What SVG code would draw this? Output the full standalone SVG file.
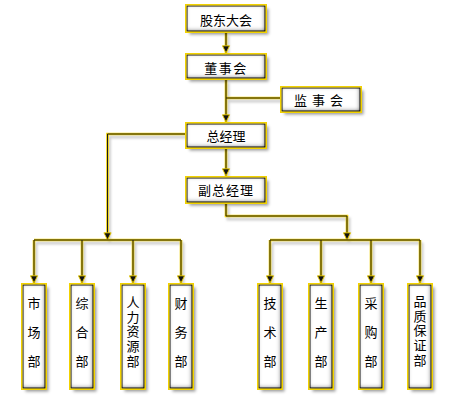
<svg xmlns="http://www.w3.org/2000/svg" width="456" height="408" viewBox="0 0 456 408">
<defs>
<style>
.bg{fill:#fff}
.box{fill:#fff;stroke:#1a1a1a;stroke-width:1;filter:url(#bx)}
.bd{fill:none;stroke:#F2D200;stroke-width:1.5}
.t{font-family:"Noto Sans CJK SC","Noto Sans",sans-serif;font-size:13px;fill:#000;text-anchor:middle}
.v{font-family:"Noto Sans CJK SC","Noto Sans",sans-serif;font-size:13px;fill:#000;writing-mode:vertical-rl;text-anchor:start}
.v3{letter-spacing:16px}
.v5{letter-spacing:1.75px}
.sh{fill:none;stroke:#d0d0d0;stroke-width:3}
.yw{fill:none;stroke:#F2D200;stroke-width:2.6}
.cr{fill:none;stroke:#1a1a1a;stroke-width:1;marker-end:url(#ah)}
.nm{marker-end:none}
</style>
<filter id="bx" x="-30%" y="-20%" width="170%" height="150%">
<feFlood flood-color="#000" result="blk"/>
<feComposite in="blk" in2="SourceAlpha" operator="out" result="inv"/>
<feOffset in="inv" dx="-1" dy="-1" result="invo"/>
<feGaussianBlur in="invo" stdDeviation="2.2" result="ib"/>
<feComposite in="ib" in2="SourceAlpha" operator="in" result="inner"/>
<feGaussianBlur in="SourceAlpha" stdDeviation="1.8" result="sb"/>
<feOffset in="sb" dx="3" dy="3" result="so"/>
<feFlood flood-color="#000" flood-opacity="0.4" result="sc"/>
<feComposite in="sc" in2="so" operator="in" result="shadow"/>
<feMerge><feMergeNode in="shadow"/><feMergeNode in="SourceGraphic"/><feMergeNode in="inner"/></feMerge>
</filter>
<filter id="lb" x="-10%" y="-10%" width="120%" height="120%"><feGaussianBlur stdDeviation="0.8"/></filter>
<marker id="ah" viewBox="0 0 10 10" refX="9" refY="5" markerWidth="9" markerHeight="9" markerUnits="userSpaceOnUse" orient="auto">
<path d="M1,1 L9,5 L1,9 z" fill="#111" stroke="#F2D200" stroke-width="1"/>
</marker>
<path id="c1" d="M226,33 V53"/>
<path id="c2" d="M226,80 V122"/>
<path id="c3" d="M226,98 H280"/>
<path id="c4" d="M185,134 H107.5 V240"/>
<path id="c5" d="M226,149 V176"/>
<path id="c6" d="M226,204 V216 H347 V240"/>
<path id="b1" d="M34,240 H181"/>
<path id="b2" d="M270,240 H420"/>
<path id="d1" d="M34,240 V283"/>
<path id="d2" d="M82,240 V283"/>
<path id="d3" d="M133,240 V283"/>
<path id="d4" d="M181,240 V283"/>
<path id="d5" d="M270,240 V283"/>
<path id="d6" d="M321,240 V283"/>
<path id="d7" d="M371,240 V283"/>
<path id="d8" d="M420,240 V283"/>
</defs>
<rect class="bg" x="0" y="0" width="456" height="408"/>
<g id="connectors">
<g transform="translate(2,3)" filter="url(#lb)">
<use href="#c1" class="sh"/><use href="#c2" class="sh"/><use href="#c3" class="sh"/><use href="#c4" class="sh"/><use href="#c5" class="sh"/><use href="#c6" class="sh"/><use href="#b1" class="sh"/><use href="#b2" class="sh"/><use href="#d1" class="sh"/><use href="#d2" class="sh"/><use href="#d3" class="sh"/><use href="#d4" class="sh"/><use href="#d5" class="sh"/><use href="#d6" class="sh"/><use href="#d7" class="sh"/><use href="#d8" class="sh"/>
</g>
<g>
<use href="#c1" class="yw"/><use href="#c2" class="yw"/><use href="#c3" class="yw"/><use href="#c4" class="yw"/><use href="#c5" class="yw"/><use href="#c6" class="yw"/><use href="#b1" class="yw"/><use href="#b2" class="yw"/><use href="#d1" class="yw"/><use href="#d2" class="yw"/><use href="#d3" class="yw"/><use href="#d4" class="yw"/><use href="#d5" class="yw"/><use href="#d6" class="yw"/><use href="#d7" class="yw"/><use href="#d8" class="yw"/>
</g>
<g>
<use href="#c1" class="cr"/><use href="#c2" class="cr"/><use href="#c3" class="cr nm"/><use href="#c4" class="cr"/><use href="#c5" class="cr"/><use href="#c6" class="cr"/><use href="#b1" class="cr nm"/><use href="#b2" class="cr nm"/><use href="#d1" class="cr"/><use href="#d2" class="cr"/><use href="#d3" class="cr"/><use href="#d4" class="cr"/><use href="#d5" class="cr"/><use href="#d6" class="cr"/><use href="#d7" class="cr"/><use href="#d8" class="cr"/>
</g>
</g>
<g id="gudong">
<rect class="box" x="187" y="6" width="78" height="25"/><rect class="bd" x="185.75" y="4.75" width="80.5" height="27.5"/>
<text class="t" x="226" y="25">股东大会</text>
</g>
<g id="dongshi">
<rect class="box" x="187" y="55" width="78" height="23"/><rect class="bd" x="185.75" y="53.75" width="80.5" height="25.5"/>
<text class="t" x="226" y="73" letter-spacing="1.5">董事会</text>
</g>
<g id="jianshi">
<rect class="box" x="282" y="88" width="78" height="23"/><rect class="bd" x="280.75" y="86.75" width="80.5" height="25.5"/>
<text class="t" x="321" y="105" letter-spacing="5">监事会</text>
</g>
<g id="zongjingli">
<rect class="box" x="187" y="124" width="78" height="23"/><rect class="bd" x="185.75" y="122.75" width="80.5" height="25.5"/>
<text class="t" x="226" y="140.5">总经理</text>
</g>
<g id="fuzongjingli">
<rect class="box" x="187" y="178" width="78" height="24"/><rect class="bd" x="185.75" y="176.75" width="80.5" height="26.5"/>
<text class="t" x="226" y="194.5" letter-spacing="1">副总经理</text>
</g>
<g id="shichang">
<rect class="box" x="23" y="285" width="22" height="103"/><rect class="bd" x="21.75" y="283.75" width="24.5" height="105.5"/>
<text class="v v3" x="34" y="296.5">市场部</text>
</g>
<g id="zonghe">
<rect class="box" x="71" y="285" width="22" height="103"/><rect class="bd" x="69.75" y="283.75" width="24.5" height="105.5"/>
<text class="v v3" x="82" y="296.5">综合部</text>
</g>
<g id="renli">
<rect class="box" x="122" y="285" width="22" height="103"/><rect class="bd" x="120.75" y="283.75" width="24.5" height="105.5"/>
<text class="v v5" x="133" y="295.5">人力资源部</text>
</g>
<g id="caiwu">
<rect class="box" x="170" y="285" width="22" height="103"/><rect class="bd" x="168.75" y="283.75" width="24.5" height="105.5"/>
<text class="v v3" x="181" y="296.5">财务部</text>
</g>
<g id="jishu">
<rect class="box" x="259" y="285" width="22" height="103"/><rect class="bd" x="257.75" y="283.75" width="24.5" height="105.5"/>
<text class="v v3" x="270" y="296.5">技术部</text>
</g>
<g id="shengchan">
<rect class="box" x="310" y="285" width="22" height="103"/><rect class="bd" x="308.75" y="283.75" width="24.5" height="105.5"/>
<text class="v v3" x="321" y="296.5">生产部</text>
</g>
<g id="caigou">
<rect class="box" x="360" y="285" width="22" height="103"/><rect class="bd" x="358.75" y="283.75" width="24.5" height="105.5"/>
<text class="v v3" x="371" y="296.5">采购部</text>
</g>
<g id="pinzhi">
<rect class="box" x="409" y="285" width="22" height="103"/><rect class="bd" x="407.75" y="283.75" width="24.5" height="105.5"/>
<text class="v v5" x="420" y="294.5">品质保证部</text>
</g>
</svg>
